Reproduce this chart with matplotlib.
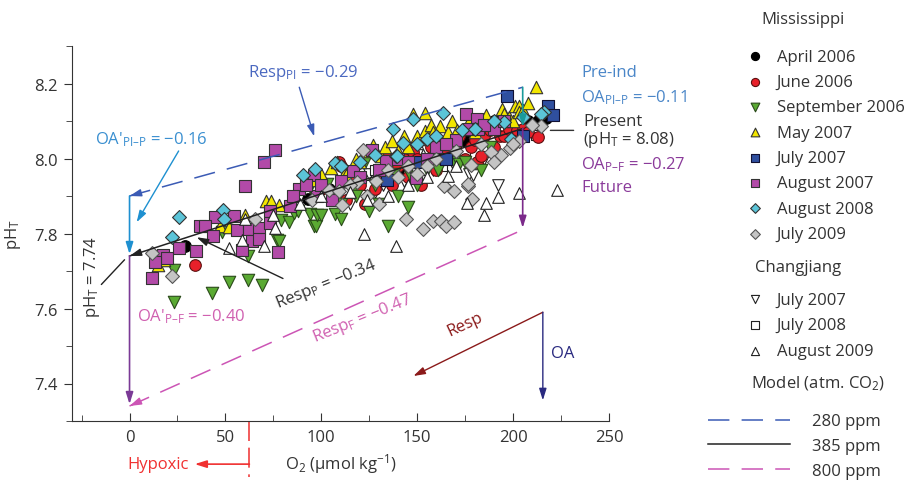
import matplotlib.pyplot as plt
from matplotlib.ticker import MultipleLocator

plt.rcParams['font.family'] = ['Open Sans', 'DejaVu Sans']
plt.rcParams['mathtext.fontset'] = 'custom'
plt.rcParams['mathtext.rm'] = 'Open Sans'
plt.rcParams['mathtext.it'] = 'Open Sans:italic'
plt.rcParams['mathtext.bf'] = 'Open Sans:bold'
plt.rcParams['mathtext.sf'] = 'Open Sans'
plt.rcParams['mathtext.default'] = 'regular'
plt.rcParams['text.color'] = '#333333'

# Mississippi cruises (O2 in umol/kg, pH on total scale)
apr06_o2 = [29, 93, 104, 120, 130, 140, 150, 155, 160, 170, 175, 185, 190, 200, 208, 213, 217]
apr06_ph = [7.766, 7.892, 7.92, 7.95, 7.96, 7.97, 7.99, 8.0, 8.02, 8.04, 8.05, 8.07, 8.10, 8.08,
            8.10, 8.10, 8.108]

jun06_o2 = [34, 73, 85, 100, 109, 110, 113, 118, 120, 123, 128, 130, 133, 135, 137, 140, 143, 145,
            148, 150, 152, 155, 157, 160, 162, 165, 166, 170, 172, 175, 178, 180, 181, 183, 185,
            188, 190, 193, 195, 198, 200, 202, 205, 208, 213]
jun06_ph = [7.715, 7.84, 7.90, 7.92, 7.99, 7.98, 7.89, 7.95, 7.93, 7.879, 7.92, 7.96, 8.006, 7.95,
            7.93, 7.98, 8.0, 7.95, 8.017, 8.0, 7.93, 8.0, 8.03, 7.97, 8.04, 8.02, 8.05, 8.04, 8.06,
            8.0, 8.03, 8.05, 7.99, 8.008, 8.06, 8.076, 8.03, 8.06, 8.06, 8.08, 8.05, 8.077, 8.08,
            8.07, 8.058]

sep06_o2 = [23, 23, 43, 48, 52, 62, 62, 69, 77, 78, 79, 83, 86, 88, 94, 94, 96, 97, 98, 100, 103,
            107, 110, 110, 114, 116, 118, 123, 125, 128, 130, 135, 138, 140, 145, 147, 150, 155,
            161, 169, 172, 175, 183, 188]
sep06_ph = [7.702, 7.618, 7.642, 7.804, 7.67, 7.675, 7.74, 7.664, 7.784, 7.78, 7.837, 7.83, 7.856,
            7.86, 7.851, 7.925, 7.82, 7.82, 7.85, 7.85, 7.931, 7.851, 7.88, 7.84, 7.95, 7.91, 7.90,
            7.99, 7.86, 7.93, 7.88, 7.82, 7.96, 7.90, 7.87, 7.95, 7.93, 7.97, 7.97, 7.99, 7.985,
            7.99, 7.97, 8.03]

may07_o2 = [15, 18, 47, 52, 60, 71, 74, 78, 96, 100, 105, 108, 113, 113, 118, 120, 125, 127, 131,
            133, 137, 140, 143, 145, 148, 150, 154, 154, 157, 158, 162, 165, 166, 168, 171, 176,
            178, 180, 182, 185, 186, 190, 194, 195, 198, 200, 201, 203, 203, 205, 208, 212]
may07_ph = [7.717, 7.73, 7.82, 7.818, 7.85, 7.886, 7.886, 7.875, 7.942, 7.96, 7.975, 7.99, 7.969,
            7.955, 8.0, 7.99, 8.02, 8.037, 8.006, 8.03, 8.046, 8.02, 8.06, 8.03, 8.12, 8.06, 8.122,
            8.073, 8.09, 8.07, 8.088, 8.04, 8.07, 8.10, 8.077, 8.08, 8.11, 8.07, 8.09, 8.10, 8.115,
            8.10, 8.131, 8.12, 8.11, 8.10, 8.139, 8.14, 8.123, 8.13, 8.147, 8.191]

jul07_o2 = [134, 150, 165, 197, 205, 218, 221]
jul07_ph = [7.944, 7.99, 8.0, 8.166, 8.061, 8.141, 8.117]

aug07_o2 = [76, 70, 60, 44.5, 37, 39.5, 43.6, 25.7, 34.9, 17.4, 19.7, 13.4, 11.9, 55.8, 62.3, 67.5,
            63.7, 67.5, 58.5, 73.3, 73.3, 54.5, 77.3, 126.5, 96, 88.5, 98, 105.6, 83.8, 116.6, 133.5,
            175.4, 181.2, 177.1, 181.7, 149.2, 120, 140, 160, 170, 190, 100, 110, 130, 145, 155,
            165, 185, 195, 85, 92]
aug07_ph = [8.022, 7.992, 7.928, 7.843, 7.82, 7.82, 7.793, 7.762, 7.753, 7.744, 7.735, 7.724,
            7.682, 7.809, 7.812, 7.814, 7.78, 7.786, 7.757, 7.86, 7.829, 7.848, 7.75, 8.022, 7.957,
            7.919, 7.90, 7.89, 7.873, 7.968, 7.993, 8.12, 8.106, 8.08, 8.079, 7.948, 7.95, 8.0,
            8.03, 8.05, 8.08, 7.93, 7.94, 7.97, 7.99, 8.0, 8.04, 8.09, 8.10, 7.90, 7.93]

aug08_o2 = [25.7, 48.9, 49.4, 22.3, 107.3, 96.9, 90.7, 137.5, 138.7, 163.2, 148, 216, 214.4, 195,
            173.6, 155.3, 142.8, 139.3, 199, 120, 128, 110, 150, 160, 180, 190, 205]
aug08_ph = [7.845, 7.864, 7.84, 7.792, 7.988, 7.971, 7.956, 8.08, 8.006, 8.122, 8.106, 8.125, 8.12,
            8.097, 8.075, 8.052, 8.042, 8.006, 8.052, 7.99, 8.01, 7.98, 8.04, 8.06, 8.08, 8.10,
            8.11]

jul09_o2 = [11.9, 22.3, 65.4, 121.8, 103.8, 110.8, 130, 128.3, 118.7, 109, 214.7, 210, 203.3,
            198.6, 193.7, 188.5, 178, 164, 176.7, 169.3, 176.6, 178.4, 144, 158, 162.4, 165, 169.3,
            153, 150, 140, 124, 135, 145, 155, 160, 170, 183, 115, 95, 190, 200]
jul09_ph = [7.747, 7.686, 7.839, 8.022, 7.917, 7.875, 7.88, 7.94, 7.937, 7.913, 8.086, 8.09, 8.046,
            8.028, 8.01, 8.017, 7.984, 7.928, 7.928, 7.913, 7.931, 7.892, 7.839, 7.833, 7.833,
            7.82, 7.831, 7.811, 7.96, 7.95, 7.90, 7.97, 7.98, 7.98, 8.0, 8.02, 8.04, 7.93, 7.89,
            7.99, 8.04]

# Changjiang cruises
cj07_o2 = [105, 110, 115, 118, 120, 125, 128, 130, 132, 133, 135, 138, 140, 142, 143, 145, 148,
           150, 152, 155, 158, 160, 162, 165, 168, 170, 172, 175, 177, 179, 185, 192]
cj07_ph = [7.90, 7.92, 7.88, 7.92, 7.94, 7.96, 7.91, 7.97, 7.93, 7.98, 7.95, 7.93, 7.99, 7.96,
           7.94, 8.0, 7.97, 8.01, 7.99, 8.02, 7.97, 8.0, 8.01, 8.03, 7.99, 8.02, 8.01, 8.04, 7.96,
           7.957, 8.0, 7.93]

cj08_o2 = [120, 125, 128, 130, 135, 138, 140, 143, 145, 148, 150, 153, 155, 158, 160, 163, 165,
           170, 175, 212]
cj08_ph = [7.95, 7.93, 7.97, 7.94, 7.99, 7.95, 7.98, 7.99, 7.96, 8.0, 7.98, 7.97, 8.0, 8.02, 7.99,
           7.98, 8.01, 8.0, 8.02, 8.064]

cj09_o2 = [52, 58.5, 60, 70, 75, 76, 89, 100, 115, 122, 124, 135, 139, 145, 155, 166, 170, 176,
           185, 186, 192, 203, 223]
cj09_ph = [7.762, 7.784, 7.84, 7.766, 7.85, 7.815, 7.879, 7.90, 7.91, 7.80, 7.89, 7.90, 7.766,
           7.93, 7.95, 7.953, 7.98, 7.882, 7.849, 7.882, 7.898, 7.908, 7.915]

# Model end points (O2 = 0 and O2 = 205) for each atmospheric CO2
model_o2 = [0, 205]
model_280 = [7.90, 8.19]
model_385 = [7.74, 8.08]
model_800 = [7.34, 7.81]

hypoxic_o2 = 62.5
resp_arrow_o2 = [215.5, 148]
resp_arrow_ph = [7.59, 7.42]
oa_arrow_ph = [7.59, 7.355]

series = [
    (apr06_o2, apr06_ph, 'o', 'black', 'black', 'April 2006', 70),
    (jun06_o2, jun06_ph, 'o', '#e8202a', '#5a1010', 'June 2006', 70),
    (sep06_o2, sep06_ph, 'v', '#5aaa32', '#2a4a1a', 'September 2006', 80),
    (may07_o2, may07_ph, '^', '#f2e600', '#333333', 'May 2007', 80),
    (jul07_o2, jul07_ph, 's', '#2f4f9f', '#111133', 'July 2007', 65),
    (aug07_o2, aug07_ph, 's', '#b24aa8', '#333333', 'August 2007', 65),
    (aug08_o2, aug08_ph, 'D', '#5bc4d8', '#333333', 'August 2008', 50),
    (jul09_o2, jul09_ph, 'D', '#c4c4c4', '#555555', 'July 2009', 50),
]
cj_series = [
    (cj07_o2, cj07_ph, 'v', 'July 2007', 70, 1.5),
    (cj08_o2, cj08_ph, 's', 'July 2008', 58, 1.5),
    (cj09_o2, cj09_ph, '^', 'August 2009', 70, 2.5),
]

fig = plt.figure(figsize=(9.11, 4.81), dpi=100)
ax = fig.add_axes([72 / 911, 1 - 422 / 481, (609 - 72) / 911, (422 - 47) / 481])

miss_handles = []
for o2, ph, m, fc, ec, lab, s in series:
    h = ax.scatter(o2, ph, marker=m, s=s, facecolor=fc, edgecolor=ec, linewidth=0.8,
                   label=lab, zorder=2)
    miss_handles.append(h)
cj_handles = []
for o2, ph, m, lab, s, z in cj_series:
    h = ax.scatter(o2, ph, marker=m, s=s, facecolor='white', edgecolor='#222222',
                   linewidth=0.8, label=lab, zorder=z)
    cj_handles.append(h)

# model lines
blue = '#3b5bb5'
black = '#222222'
pink = '#cc55b5'
l280, = ax.plot(model_o2, model_280, color=blue, lw=1.1, dashes=(14, 8), zorder=3)
l385, = ax.plot(model_o2, model_385, color=black, lw=1.1, zorder=3)
l800, = ax.plot(model_o2, model_800, color=pink, lw=1.1, dashes=(14, 8), zorder=3)


def arrow(x, y, x0, y0, color, lw=1.0):
    ax.annotate('', xy=(x, y), xytext=(x0, y0),
                arrowprops=dict(arrowstyle='-|>,head_length=0.7,head_width=0.22',
                                color=color, lw=lw, shrinkA=0, shrinkB=0), zorder=4)


# arrow heads at the O2 = 0 end of each model line
for ph, c in [(model_280, blue), (model_385, black), (model_800, pink)]:
    k = (ph[1] - ph[0]) / (model_o2[1] - model_o2[0])
    arrow(model_o2[0], ph[0], model_o2[0] + 6, ph[0] + 6 * k, c)

# acidification arrows
arrow(model_o2[0], model_385[0] + 0.005, model_o2[0], model_280[0], '#1e90d0', 1.2)
arrow(model_o2[0], model_800[0] + 0.005, model_o2[0], model_385[0], '#7b3a96', 1.2)
arrow(model_o2[1], model_385[1] + 0.005, model_o2[1], model_280[1], '#1a9a9a', 1.2)
arrow(model_o2[1], model_800[1] + 0.005, model_o2[1], model_385[1], '#7b2a8a', 1.2)

# schematic Resp / OA arrows
arrow(resp_arrow_o2[1], resp_arrow_ph[1], resp_arrow_o2[0], resp_arrow_ph[0], '#8b1a1a')
arrow(resp_arrow_o2[0], oa_arrow_ph[1], resp_arrow_o2[0], oa_arrow_ph[0], '#2a2a80')
ax.text(175, 7.56, 'Resp', color='#8b1a1a', fontsize=12, rotation=25, ha='center', va='center')
ax.text(220, 7.481, 'OA', color='#2a2a80', fontsize=12, ha='left', va='center')

# labels
fs = 12
ax.text(61.8, 8.232, 'Resp$_{PI}$ = \u22120.29', color='#4a68c0', fontsize=fs, va='center')
arrow(96.3, 8.059, 88.5, 8.19, blue)
ax.text(-17.8, 8.053, "OA'$_{PI\u2013P}$ = \u22120.16", color='#3a8fd0', fontsize=fs, va='center')
arrow(3.7, 7.83, 25.6, 8.02, '#1e90d0')
ax.text(235.6, 8.232, 'Pre-ind', color='#4a86c8', fontsize=fs, va='center', clip_on=False)
ax.text(235.6, 8.165, 'OA$_{PI\u2013P}$ = \u22120.11', color='#4a86c8', fontsize=fs,
        va='center', clip_on=False)
ax.text(236.5, 8.101, 'Present', fontsize=fs, va='center', clip_on=False)
ax.text(236.5, 8.053, '(pH$_T$ = 8.08)', fontsize=fs, va='center', clip_on=False)
ax.annotate('', xy=(218, 8.075), xytext=(233, 8.075),
            arrowprops=dict(arrowstyle='-', color='#333333', lw=1.0), annotation_clip=False)
ax.text(235.6, 7.987, 'OA$_{P\u2013F}$ = \u22120.27', color='#8a3a9a', fontsize=fs,
        va='center', clip_on=False)
ax.text(235.6, 7.923, 'Future', color='#8a3a9a', fontsize=fs, va='center', clip_on=False)

ax.text(-19.4, 7.688, 'pH$_T$ = 7.74', fontsize=fs, rotation=90, ha='center', va='center')
ax.annotate('', xy=(-2.6, 7.73), xytext=(-14.7, 7.664),
            arrowprops=dict(arrowstyle='-', color='#222222', lw=1.0, shrinkA=0, shrinkB=0))
ax.text(102.6, 7.667, 'Resp$_P$ = \u22120.34', fontsize=fs, rotation=22, ha='center', va='center')
arrow(35, 7.79, 80, 7.68, '#222222')
ax.text(3.7, 7.581, "OA'$_{P\u2013F}$ = \u22120.40", color='#d060b0', fontsize=fs, va='center')
ax.text(121.5, 7.576, 'Resp$_F$ = \u22120.47', color='#d060b0', fontsize=fs, rotation=22,
        ha='center', va='center')

# hypoxic threshold below the axis
xt = ax.get_xaxis_transform()
ax.plot([hypoxic_o2, hypoxic_o2], [0, -0.15], transform=xt, color='#f04040', lw=1.2,
        dashes=(12, 4), clip_on=False)
ax.annotate('', xy=(34, -0.115), xytext=(hypoxic_o2, -0.115), xycoords=xt, textcoords=xt,
            arrowprops=dict(arrowstyle='-|>,head_length=0.7,head_width=0.22', color='#f03030',
                            lw=1.2, shrinkA=0, shrinkB=0), annotation_clip=False)
ax.text(31, -0.115, 'Hypoxic', transform=xt, color='#f03030', fontsize=fs, ha='right',
        va='center')

# axes styling
ax.set_xlim(-30, 250)
ax.set_ylim(7.3, 8.3)
ax.xaxis.set_major_locator(MultipleLocator(50))
ax.xaxis.set_minor_locator(MultipleLocator(25))
ax.yaxis.set_minor_locator(MultipleLocator(0.1))
ax.set_yticks([7.4, 7.6, 7.8, 8.0, 8.2])
ax.spines['top'].set_visible(False)
ax.spines['right'].set_visible(False)
for sp in ['left', 'bottom']:
    ax.spines[sp].set_color('#333333')
ax.tick_params(axis='x', which='both', direction='in', colors='#333333', labelsize=12, pad=6)
ax.tick_params(axis='y', which='both', direction='out', colors='#333333', labelsize=12, pad=4)
ax.tick_params(which='major', length=6)
ax.tick_params(which='minor', length=4)
ax.set_xlabel('O$_2$ (\u00b5mol kg$^{\u22121}$)', fontsize=12, labelpad=4, color='#333333')
ax.set_ylabel('pH$_T$', fontsize=12, labelpad=8, color='#333333')

# legends
lfs = 12
fpx = lfs * 100 / 72
common = dict(frameon=False, fontsize=lfs, borderpad=0, borderaxespad=0, scatterpoints=1,
              labelcolor='#333333')
fig.legend(handles=miss_handles, loc='center left',
           bbox_to_anchor=((755 - 0.5 * fpx) / 911, 1 - 146.5 / 481), handlelength=1.0,
           handletextpad=0.8, labelspacing=0.56, markerscale=0.7, **common)
fig.legend(handles=cj_handles, loc='center left',
           bbox_to_anchor=((755 - 0.5 * fpx) / 911, 1 - 326.5 / 481), handlelength=1.0,
           handletextpad=0.8, labelspacing=0.58, markerscale=0.7, **common)
fig.legend(handles=[l280, l385, l800], labels=['280 ppm', '385 ppm', '800 ppm'],
           loc='center left', bbox_to_anchor=(708 / 911, 1 - 447 / 481),
           handlelength=82 / fpx, handletextpad=1.32, labelspacing=0.52, **common)
fig.text(761 / 911, 1 - 20 / 481, 'Mississippi', fontsize=lfs, va='center')
fig.text(755 / 911, 1 - 268 / 481, 'Changjiang', fontsize=lfs, va='center')
fig.text(751 / 911, 1 - 384 / 481, 'Model (atm. CO$_2$)', fontsize=lfs, va='center')

fig.savefig('out.png', dpi=100)
